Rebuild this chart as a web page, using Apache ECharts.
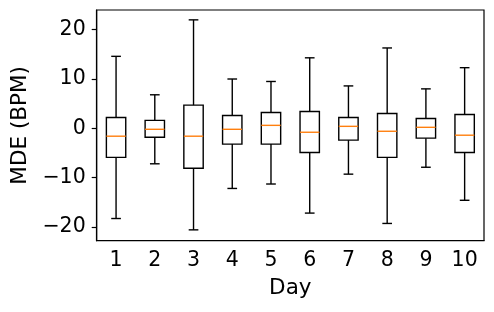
<!DOCTYPE html>
<html><head><meta charset="utf-8">
<script src="https://cdn.jsdelivr.net/npm/echarts@6/dist/echarts.min.js"></script>
<style>html,body{margin:0;padding:0;background:#fff}#c{width:494px;height:312px}</style>
</head><body><div id="c"></div>
<script>
const days = ['1','2','3','4','5','6','7','8','9','10'];
const whiskerLow  = [-18.3, -7.2, -20.6, -12.2, -11.3, -17.2, -9.3, -19.3, -7.9, -14.6];
const q1          = [-5.9, -1.8, -8.1, -3.2, -3.2, -4.9, -2.4, -5.9, -2.0, -4.9];
const median      = [-1.6, -0.2, -1.6, -0.2, 0.6, -0.8, 0.4, -0.6, 0.2, -1.4];
const q3          = [2.2, 1.6, 4.7, 2.6, 3.2, 3.4, 2.2, 3.0, 2.0, 2.8];
const whiskerHigh = [14.6, 6.8, 22.0, 10.0, 9.5, 14.3, 8.6, 16.3, 8.0, 12.3];
const yTicks = [-20, -10, 0, 10, 20];

const data = days.map((d, i) => [i, whiskerLow[i], q1[i], median[i], q3[i], whiskerHigh[i]]);
const FONT = 'DejaVu Sans';
const LW = 1.4;

function renderItem(params, api) {
  const x = api.value(0);
  const lo = api.coord([x, api.value(1)]);
  const b1 = api.coord([x, api.value(2)]);
  const md = api.coord([x, api.value(3)]);
  const b3 = api.coord([x, api.value(4)]);
  const hi = api.coord([x, api.value(5)]);
  const bw = api.size([1, 0])[0] * 0.5;
  const cw = bw / 2;
  const cx = lo[0];
  const blk = {stroke: '#000', lineWidth: LW, fill: null};
  return {
    type: 'group',
    children: [
      {type: 'line', shape: {x1: cx, y1: hi[1], x2: cx, y2: b3[1]}, style: blk},
      {type: 'line', shape: {x1: cx, y1: b1[1], x2: cx, y2: lo[1]}, style: blk},
      {type: 'line', shape: {x1: cx - cw / 2, y1: hi[1], x2: cx + cw / 2, y2: hi[1]}, style: blk},
      {type: 'line', shape: {x1: cx - cw / 2, y1: lo[1], x2: cx + cw / 2, y2: lo[1]}, style: blk},
      {type: 'rect', shape: {x: cx - bw / 2, y: b3[1], width: bw, height: b1[1] - b3[1]}, style: {stroke: '#000', lineWidth: LW, fill: 'none'}},
      {type: 'line', shape: {x1: cx - bw / 2, y1: md[1], x2: cx + bw / 2, y2: md[1]}, style: {stroke: '#ff7f0e', lineWidth: LW}}
    ]
  };
}

const chart = echarts.init(document.getElementById('c'), null, {renderer: 'canvas'});
chart.setOption({
  animation: false,
  backgroundColor: '#fff',
  grid: {left: 96.7, right: 10, top: 10, bottom: 71.3, show: true, borderColor: '#000', borderWidth: 1.2, containLabel: false},
  xAxis: {
    type: 'category',
    data: days,
    boundaryGap: true,
    name: 'Day',
    nameLocation: 'middle',
    nameGap: 37,
    nameTextStyle: {fontFamily: FONT, fontSize: 21.5, color: '#000'},
    axisLine: {onZero: false, lineStyle: {color: '#000', width: 1.2}},
    axisTick: {alignWithLabel: true, length: 5, lineStyle: {color: '#000', width: 1.2}},
    axisLabel: {fontFamily: FONT, fontSize: 20.5, color: '#000', margin: 9, interval: 0},
    splitLine: {show: false}
  },
  yAxis: {
    type: 'value',
    min: -22.8,
    max: 24,
    name: 'MDE (BPM)',
    nameLocation: 'middle',
    nameGap: 63,
    nameTextStyle: {fontFamily: FONT, fontSize: 21.5, color: '#000'},
    axisLine: {show: true, onZero: false, lineStyle: {color: '#000', width: 1.2}},
    axisTick: {show: true, length: 5, customValues: yTicks, lineStyle: {color: '#000', width: 1.2}},
    axisLabel: {fontFamily: FONT, fontSize: 20.5, color: '#000', margin: 11, customValues: yTicks,
      formatter: v => (v < 0 ? '\u2212' + Math.abs(v) : String(v))},
    splitLine: {show: false}
  },
  series: [{
    type: 'custom',
    renderItem: renderItem,
    encode: {x: 0, y: [1, 2, 3, 4, 5]},
    data: data,
    clip: false
  }]
});
</script></body></html>
